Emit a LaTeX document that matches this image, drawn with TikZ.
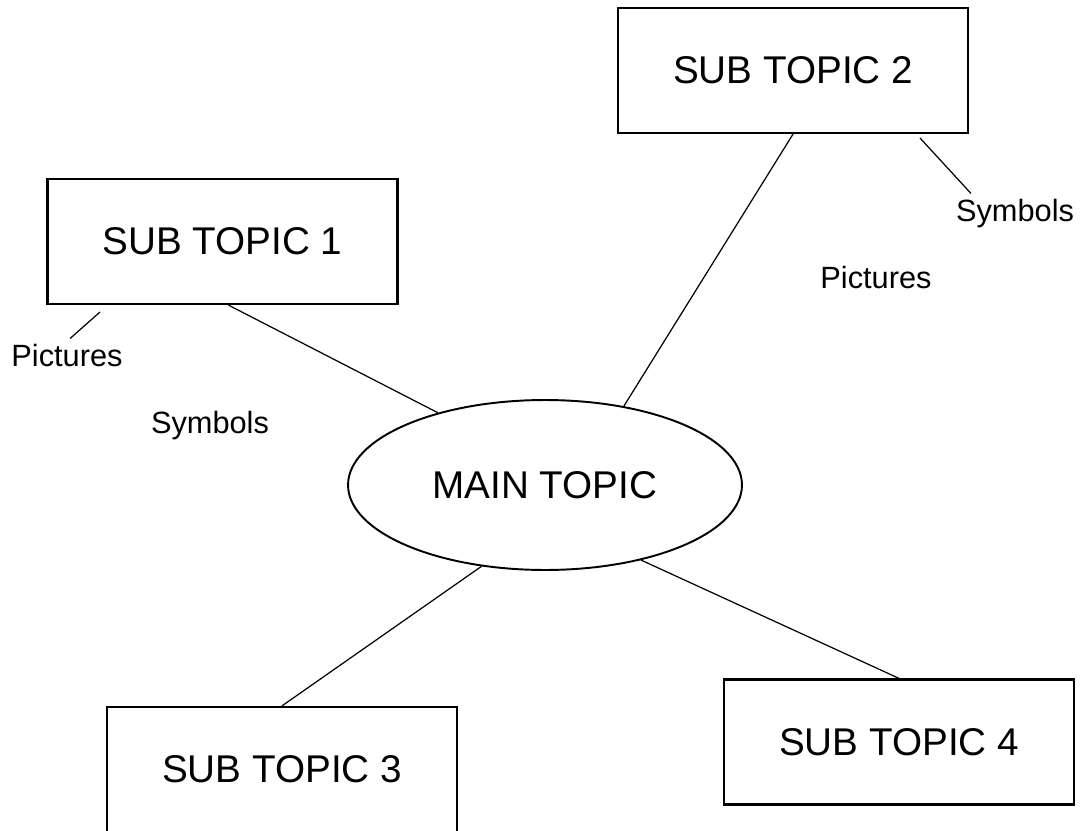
\documentclass[tikz,border=0pt]{standalone}
\usepackage{fontspec}
\setmainfont{Liberation Sans}
\usetikzlibrary{shapes.geometric}
\begin{document}
\begin{tikzpicture}[x=0.02cm,y=-0.02cm]
% Styles
\tikzstyle{cadre}=[draw,line width=1.3pt,minimum width=7cm,minimum height=2.5cm,font=\fontsize{22}{26}\selectfont]
\tikzstyle{bulle}=[draw,ellipse,line width=1.1pt,inner sep=0pt,minimum width=7.88cm,minimum height=3.4cm,font=\fontsize{22}{26}\selectfont]
\tikzstyle{trait}=[line width=0.7pt]
\tikzstyle{mot}=[font=\fontsize{17.5}{21}\selectfont]
% Dimensions de la figure
\def\Lrg{1081}
\def\Ht{831}
% Encadrement
\useasboundingbox (0,0) rectangle (\Lrg,\Ht);
\clip (0,0) rectangle (\Lrg,\Ht);
% Sujet principal
\node[bulle] (principal) at (545,485) {MAIN TOPIC};
% Sous-sujets
\node[cadre] (sujetA) at (222.5,241.5) {SUB TOPIC 1};
\node[cadre] (sujetB) at (793,70.5) {SUB TOPIC 2};
\node[cadre] (sujetC) at (282,769.5) {SUB TOPIC 3};
\node[cadre] (sujetD) at (899,742) {SUB TOPIC 4};
% Mots
\node[mot] (imageA) at (67,356) {Pictures};
\node[mot] (symboleA) at (210,426) {Symbols};
\node[mot] (symboleB) at (1015,214) {Symbols};
\node[mot] (imageB) at (876,278) {Pictures};
\coordinate (brancheA) at (100,312);
\coordinate (brancheB) at (920,138);
% Liaisons
\draw[trait] ([xshift=0.12cm]sujetA.south) -- (principal.146);
\draw[trait] (sujetB.south) -- (principal.45);
\draw[trait] (sujetC.north) -- (principal.232);
\draw[trait] (sujetD.north) -- (principal.322);
\draw[trait] (brancheA) -- (imageA.80);
\draw[trait] (brancheB) -- (symboleB.155);
\end{tikzpicture}
\end{document}
